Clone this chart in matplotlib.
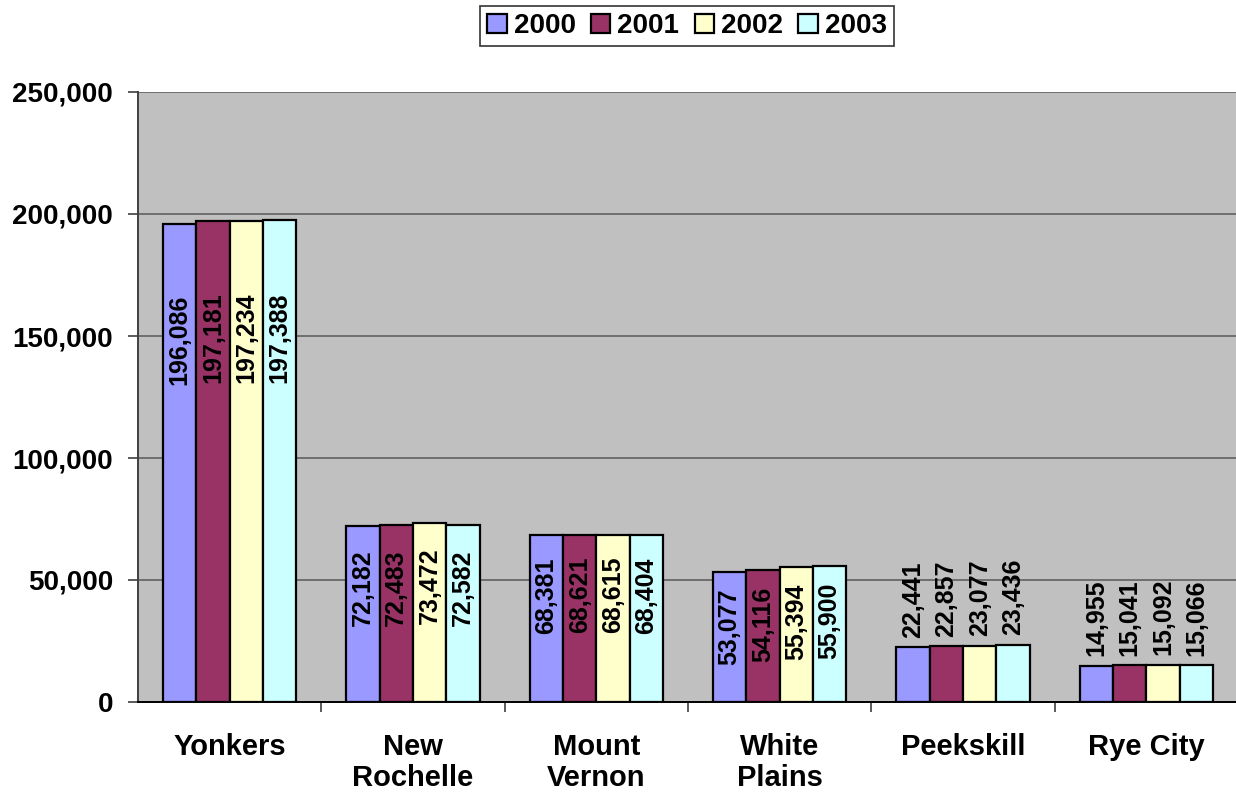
import numpy as np
import matplotlib
matplotlib.use("Agg")
import matplotlib.pyplot as plt
from matplotlib.ticker import FuncFormatter, FixedLocator

# Population by city, 2000-2003
cities = ["Yonkers", "New\nRochelle", "Mount\nVernon", "White\nPlains", "Peekskill", "Rye City"]
years = ["2000", "2001", "2002", "2003"]
pop_2000 = [196086, 72182, 68381, 53077, 22441, 14955]
pop_2001 = [197181, 72483, 68621, 54116, 22857, 15041]
pop_2002 = [197234, 73472, 68615, 55394, 23077, 15092]
pop_2003 = [197388, 72582, 68404, 55900, 23436, 15066]
series = [pop_2000, pop_2001, pop_2002, pop_2003]
colors = ["#9999FF", "#993366", "#FFFFCC", "#CCFFFF"]

FONT = "Liberation Sans"

fig = plt.figure(figsize=(12.36, 7.99), dpi=100)
ax = fig.add_axes([138 / 1236, 1 - 702 / 799, 1100 / 1236, 610 / 799])
ax.set_facecolor("#C0C0C0")

x = np.arange(len(cities))
w = 0.1815
handles = []
for i, (vals, c) in enumerate(zip(series, colors)):
    pos = x + (i - 1.5) * w
    b = ax.bar(pos, vals, width=w, color=c, edgecolor="black", linewidth=1.6, zorder=3, label=years[i])
    handles.append(b)
    for px, v in zip(pos, vals):
        lab = f"{v:,}"
        if v > 40000:
            # label sits inside the bar, a bit below the top
            ax.text(px, 0.82 * v - 12500, lab, rotation=90, ha="center", va="center",
                    fontsize=18, fontweight="bold", family=FONT, zorder=4)
        else:
            ax.annotate(lab, (px, v), xytext=(0, 7), textcoords="offset points", rotation=90,
                        ha="center", va="bottom", fontsize=18, fontweight="bold",
                        family=FONT, zorder=4)

ax.set_xlim(-0.5, len(cities) - 0.5)
ax.set_ylim(0, 250000)
ax.set_yticks(np.arange(0, 250001, 50000))
ax.yaxis.set_major_formatter(FuncFormatter(lambda v, p: f"{int(v):,}"))
ax.grid(axis="y", color="#606060", linewidth=1.2, zorder=1)
for lbl in ax.get_yticklabels():
    lbl.set_fontfamily(FONT)
    lbl.set_fontweight("bold")
    lbl.set_fontsize(20)
ax.tick_params(axis="y", direction="out", length=7, width=1.2, color="#404040", pad=11)

# category boundaries get the tick marks, centres get the names
ax.xaxis.set_major_locator(FixedLocator(x[:-1] + 0.5))
ax.xaxis.set_major_formatter(FuncFormatter(lambda v, p: ""))
ax.xaxis.set_minor_locator(FixedLocator(x))
ax.set_xticklabels(cities, minor=True, fontsize=21, fontweight="bold", family=FONT,
                   linespacing=1.15)
ax.tick_params(axis="x", which="major", direction="out", length=7, width=1.2, color="#404040")
ax.tick_params(axis="x", which="minor", length=0, pad=22)

for s in ["top", "right"]:
    ax.spines[s].set_visible(False)
ax.spines["left"].set_color("#404040")
ax.spines["left"].set_linewidth(1.4)
ax.spines["bottom"].set_color("black")
ax.spines["bottom"].set_linewidth(1.4)

leg = fig.legend(handles=handles, labels=years, loc="center", bbox_to_anchor=(687 / 1236, 1 - 26 / 799),
                 ncol=4, frameon=True, fancybox=False, edgecolor="black", handlelength=0.7,
                 handleheight=0.7, handletextpad=0.25, columnspacing=0.55, borderpad=0.25,
                 prop={"family": FONT, "weight": "bold", "size": 20})
leg.get_frame().set_linewidth(1.2)

fig.savefig("out.png", dpi=100)
